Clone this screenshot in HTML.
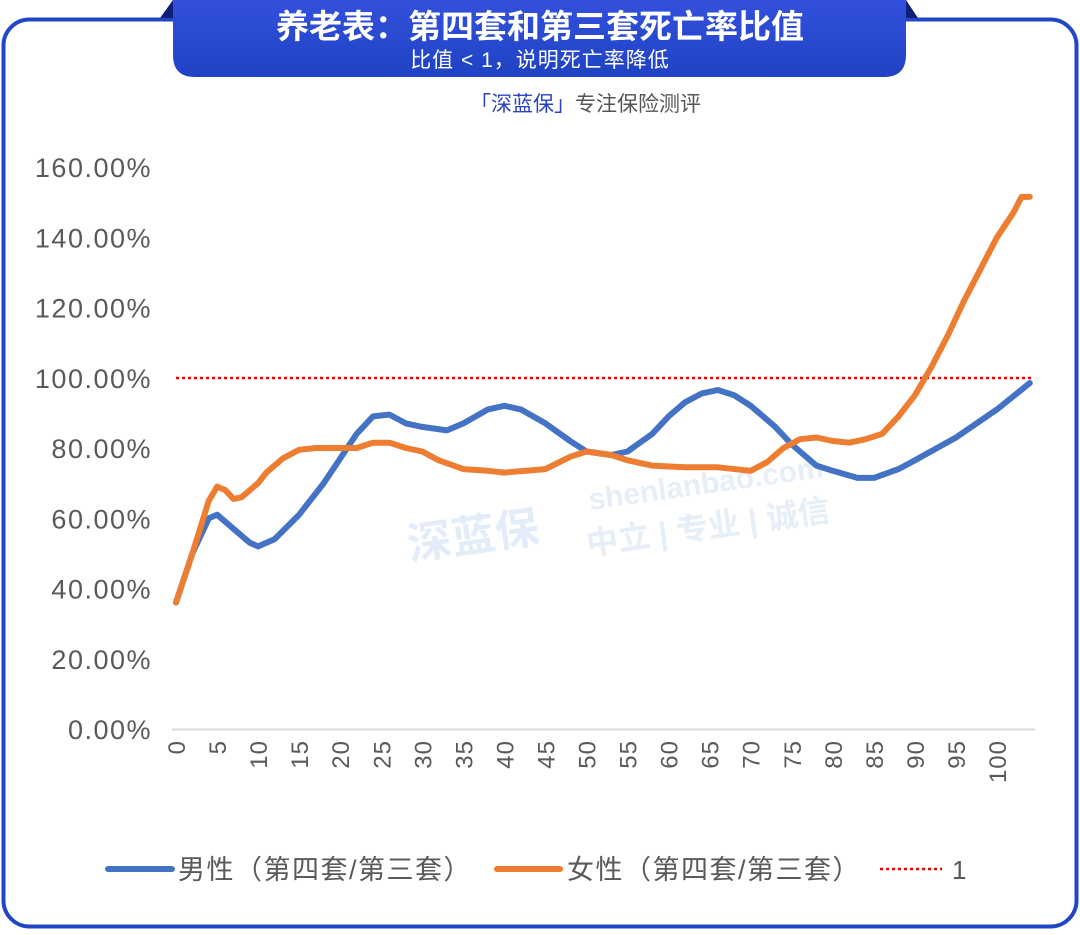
<!DOCTYPE html><html><head><meta charset="utf-8"><style>
body{margin:0;width:1080px;height:930px;background:#fff;overflow:hidden;font-family:"Liberation Sans","Noto Sans CJK SC",sans-serif}
</style></head><body>
<svg id="s" width="1080" height="930" xmlns="http://www.w3.org/2000/svg" font-family="Liberation Sans, Noto Sans CJK SC, sans-serif">
<rect x="3.5" y="19.5" width="1073" height="907" rx="26" fill="#fff" stroke="#2147c6" stroke-width="4"/>
<polygon points="160,18 173,0 173,18" fill="#0f1f7a"/>
<polygon points="918,18 906,0 906,18" fill="#0f1f7a"/>
<defs><linearGradient id="g" x1="0" y1="0" x2="0" y2="1"><stop offset="0" stop-color="#3350dc"/><stop offset="1" stop-color="#1f43c4"/></linearGradient></defs>
<path d="M173,0 H906 V55 Q906,77 884,77 H195 Q173,77 173,55 Z" fill="url(#g)"/>
<text x="540" y="38" text-anchor="middle" font-size="33" font-weight="bold" fill="#fff">养老表：第四套和第三套死亡率比值</text>
<text x="540" y="67" text-anchor="middle" font-size="21" fill="#fff" letter-spacing="1">比值 &lt; 1，说明死亡率降低</text>
<text x="470" y="111" font-size="21" fill="#555"><tspan fill="#2a44c0">「深蓝保」</tspan>专注保险测评</text>
<text x="590" y="510" font-size="30" font-weight="bold" fill="#e6eef8" transform="rotate(-8 590 510)">shenlanbao.com</text>
<text x="588" y="555" font-size="32" font-weight="bold" fill="#e6eef8" transform="rotate(-8 588 555)">中立 | 专业 | 诚信</text>
<text x="410" y="560" font-size="44" font-weight="bold" fill="#e3edf9" transform="rotate(-8 410 560)">深蓝保</text>
<g id="ax"></g>
</svg>
<script>
const ax=document.getElementById('ax');let h='';
const X=a=>176+8.21*a, Y=v=>729-3.5125*v;
for(let i=0;i<=8;i++){const v=i*20;h+=`<text x="152" y="${Y(v)+10}" text-anchor="end" font-size="27" letter-spacing="1.5" fill="#595959">${v}.00%</text>`;}
h+=`<line x1="172" y1="729.5" x2="1035" y2="729.5" stroke="#d9d9d9" stroke-width="2"/>`;
for(let a=0;a<=100;a+=5){h+=`<text transform="translate(${X(a)+9},740) rotate(-90)" text-anchor="end" font-size="24" letter-spacing="1" fill="#595959">${a}</text>`;}
h+=`<line x1="176" y1="378" x2="1032" y2="378" stroke="#e00" stroke-width="2.5" stroke-dasharray="3,3"/>`;
const m=[[0,36],[2,50],[4,60],[5,61],[7,57],[9,53],[10,52],[12,54],[15,61],[18,70],[20,77],[22,84],[24,89],[26,89.5],[28,87],[30,86],[33,85],[35,87],[38,91],[40,92],[42,91],[45,87],[48,82],[50,79],[53,78],[55,79],[58,84],[60,89],[62,93],[64,95.5],[66,96.5],[68,95],[70,92],[73,86],[75,81],[78,75],[80,73.5],[83,71.5],[85,71.5],[88,74],[90,76.5],[95,83],[100,91],[104,98.5]];
const f=[[0,36],[2,50],[4,65],[5,69],[6,68],[7,65.5],[8,66],[9,68],[10,70],[11,73],[13,77],[15,79.5],[17,80],[20,80],[22,80],[24,81.5],[26,81.5],[28,80],[30,79],[32,76.5],[35,74],[38,73.5],[40,73],[45,74],[48,77.5],[50,79],[53,78],[55,76.5],[58,75],[62,74.5],[66,74.5],[70,73.5],[72,76],[74,80],[76,82.5],[78,83],[80,82],[82,81.5],[84,82.5],[86,84],[88,89],[90,95],[92,103],[94,112],[96,122],[98,131],[100,140],[102,147],[103,151.5],[104,151.5]];
const p=d=>d.map((q,i)=>(i?'L':'M')+X(q[0]).toFixed(1)+','+Y(q[1]).toFixed(1)).join(' ');
h+=`<path d="${p(m)}" fill="none" stroke="#4472c4" stroke-width="6" stroke-linejoin="round" stroke-linecap="round"/>`;
h+=`<path d="${p(f)}" fill="none" stroke="#ed7d31" stroke-width="6" stroke-linejoin="round" stroke-linecap="round"/>`;
h+=`<line x1="108" y1="869" x2="172" y2="869" stroke="#4472c4" stroke-width="6" stroke-linecap="round"/><text x="178" y="879" font-size="27" letter-spacing="1.5" fill="#595959">男性（第四套/第三套）</text>`;
h+=`<line x1="497" y1="869" x2="560" y2="869" stroke="#ed7d31" stroke-width="6" stroke-linecap="round"/><text x="567" y="879" font-size="27" letter-spacing="1.5" fill="#595959">女性（第四套/第三套）</text>`;
h+=`<line x1="880" y1="869" x2="942" y2="869" stroke="#e00" stroke-width="2.5" stroke-dasharray="3,3"/><text x="952" y="879" font-size="26" fill="#595959">1</text>`;
ax.innerHTML=h;
</script>
</body></html>
